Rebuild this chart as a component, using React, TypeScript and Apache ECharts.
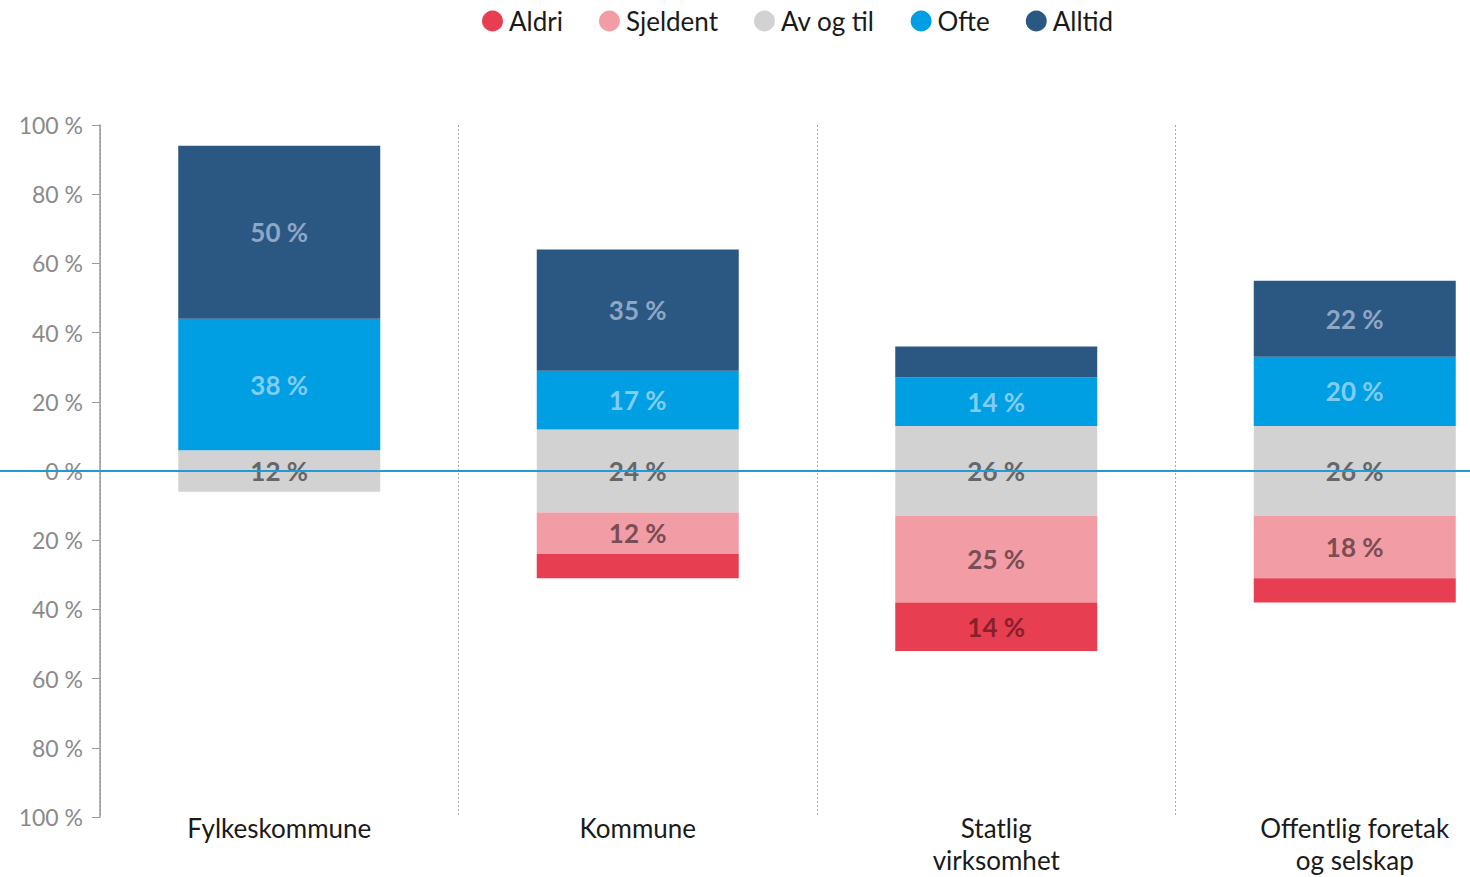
import React, { useEffect, useRef } from "react";
import * as echarts from "echarts";

const categories = ["Fylkeskommune", "Kommune", "Statlig\nvirksomhet", "Offentlig foretak\nog selskap"];
const seriesNames = ["Aldri", "Sjeldent", "Av og til", "Ofte", "Alltid"];
const aldri = [0, 7, 14, 7];
const sjeldent = [0, 12, 25, 18];
const avOgTil = [12, 24, 26, 26];
const ofte = [38, 17, 14, 20];
const alltid = [50, 35, 9, 22];

const colors = {
  aldri: "#e83e51",
  sjeldent: "#f29ca6",
  avOgTil: "#d2d2d2",
  ofte: "#009fe3",
  alltid: "#2b5783",
};
const labelColors = {
  aldri: "#8a1f2c",
  sjeldent: "#7a4c53",
  avOgTil: "#666666",
  ofte: "#80cdf1",
  alltid: "#8da7c5",
};

const FONT = "Lato, 'Source Sans Pro', 'Noto Sans', sans-serif";

export default function App() {
  const ref = useRef<HTMLDivElement>(null);
  useEffect(() => {
    document.body.style.margin = "0";
    const chart = echarts.init(ref.current!, null, { renderer: "svg" });
    const fmt = (raw: number[]) => (p: any) => {
      const v = raw[p.dataIndex];
      return v >= 10 ? `${v} %` : "";
    };
    const labelBase = {
      show: true,
      position: "inside",
      fontFamily: FONT,
      fontSize: 26,
      fontWeight: "bold",
    };
    const option: any = {
      animation: false,
      textStyle: { fontFamily: FONT },
      legend: {
        data: seriesNames.map((n, i) => ({
          name: n,
          itemStyle: { color: [colors.aldri, colors.sjeldent, colors.avOgTil, colors.ofte, colors.alltid][i] },
        })),
        top: 3,
        left: 477,
        icon: "circle",
        itemWidth: 21,
        itemHeight: 21,
        itemGap: 36,
        textStyle: { fontFamily: FONT, fontSize: 26, color: "#1a1a1a", padding: [0, 0, 0, 1] },
        selectedMode: false,
      },
      grid: { left: 100, top: 125, width: 1434, height: 692, outerBoundsMode: "none", containLabel: false },
      xAxis: {
        type: "category",
        data: categories,
        position: "bottom",
        axisLine: { show: false, onZero: false },
        axisTick: { show: false },
        axisLabel: {
          fontFamily: FONT,
          fontSize: 26,
          color: "#1a1a1a",
          lineHeight: 32,
          margin: -5,
          interval: 0,
        },
        splitLine: {
          show: true,
          interval: 0,
          lineStyle: { type: [2, 2], color: "#a8a8a8", width: 1 },
        },
      },
      yAxis: {
        type: "value",
        min: -100,
        max: 100,
        interval: 20,
        axisLine: { show: true, lineStyle: { color: "#9a9a9a", width: 1.5 } },
        axisTick: { show: true, length: 8, lineStyle: { color: "#9a9a9a" } },
        splitLine: { show: false },
        axisLabel: {
          fontFamily: FONT,
          fontSize: 23,
          color: "#8a8a8a",
          margin: 17,
          formatter: (v: number) => `${Math.abs(v)} %`,
        },
      },
      series: [
        {
          name: "Av og til",
          type: "bar",
          stack: "total",
          barWidth: 202,
          data: avOgTil.map((v) => v / 2),
          itemStyle: { color: colors.avOgTil },
          label: {
            ...labelBase,
            position: ["50%", "100%"],
            align: "center",
            verticalAlign: "middle",
            color: labelColors.avOgTil,
            formatter: fmt(avOgTil),
          },
          markLine: {
            silent: true,
            symbol: "none",
            label: { show: false },
            lineStyle: { type: [3, 3], color: "#666", width: 1 },
            data: [{ yAxis: 0 }],
          },
        },
        {
          name: "Av og til",
          type: "bar",
          stack: "total",
          barWidth: 202,
          data: avOgTil.map((v) => -v / 2),
          itemStyle: { color: colors.avOgTil },
          label: { show: false },
        },
        {
          name: "Ofte",
          type: "bar",
          stack: "total",
          barWidth: 202,
          data: ofte,
          itemStyle: { color: colors.ofte },
          label: { ...labelBase, color: labelColors.ofte, formatter: fmt(ofte) },
        },
        {
          name: "Alltid",
          type: "bar",
          stack: "total",
          barWidth: 202,
          data: alltid,
          itemStyle: { color: colors.alltid },
          label: { ...labelBase, color: labelColors.alltid, formatter: fmt(alltid) },
        },
        {
          name: "Sjeldent",
          type: "bar",
          stack: "total",
          barWidth: 202,
          data: sjeldent.map((v) => -v),
          itemStyle: { color: colors.sjeldent },
          label: { ...labelBase, color: labelColors.sjeldent, formatter: fmt(sjeldent) },
        },
        {
          name: "Aldri",
          type: "bar",
          stack: "total",
          barWidth: 202,
          data: aldri.map((v) => -v),
          itemStyle: { color: colors.aldri },
          label: { ...labelBase, color: labelColors.aldri, formatter: fmt(aldri) },
        },
      ],
    };
    chart.setOption(option);
    const y0 = chart.convertToPixel({ yAxisIndex: 0 }, 0) as number;
    chart.setOption({
      graphic: [
        {
          type: "line",
          z: 100,
          silent: true,
          shape: { x1: 0, y1: y0, x2: 1470, y2: y0 },
          style: { stroke: "#1f9bd7", lineWidth: 2 },
        },
      ],
    });
    return () => chart.dispose();
  }, []);
  return (
    <div
      ref={ref}
      style={{ position: "absolute", left: 0, top: 0, width: 1470, height: 877 }}
    />
  );
}
